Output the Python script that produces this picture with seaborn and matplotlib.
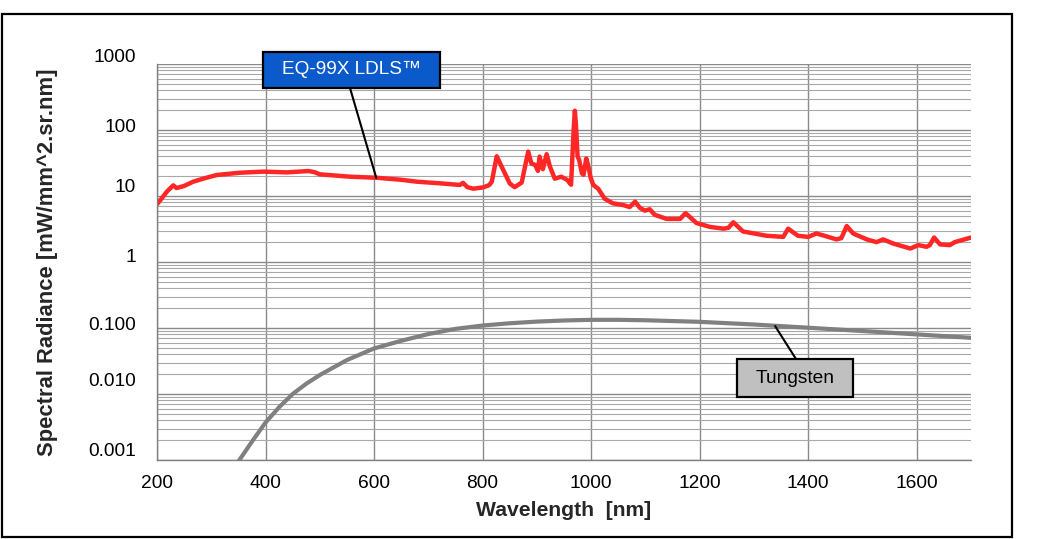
import matplotlib
matplotlib.use("Agg")
import matplotlib.pyplot as plt
import matplotlib.transforms as mtransforms
from matplotlib.patches import Rectangle
from matplotlib.ticker import FixedLocator, LogLocator, MultipleLocator, NullFormatter
import seaborn as sns

# ----------------------------
# Data
# ----------------------------
ldls_nm = [200, 210, 218, 230, 236, 250, 267, 290, 310, 352, 396, 439, 465, 479, 490,
           500, 556, 605, 650, 678, 720, 758, 764, 772, 783, 801, 812, 817, 826, 835,
           850, 859, 872, 884, 890, 897, 902, 905, 911, 918, 924, 933, 945, 956, 963,
           968, 970, 972, 975, 978, 983, 986, 991, 995, 999, 1004, 1013, 1025, 1040,
           1059, 1071, 1081, 1090, 1099, 1108, 1117, 1139, 1164, 1174, 1194, 1219,
           1244, 1253, 1262, 1280, 1323, 1354, 1363, 1381, 1400, 1415, 1430, 1452,
           1461, 1471, 1483, 1508, 1526, 1538, 1557, 1588, 1603, 1618, 1624, 1632,
           1643, 1661, 1670, 1688, 1700]
ldls_val = [7.5, 9.5, 11.6, 14.5, 13.2, 14.2, 16.5, 18.8, 20.8, 22.5, 23.4, 22.8, 23.5, 23.9, 23.0,
            21.3, 19.6, 18.9, 17.6, 16.5, 15.6, 14.7, 15.8, 13.6, 12.9, 13.5, 14.6, 16.5, 40, 28,
            15.5, 13.6, 16, 47, 31, 29.5, 24, 39.5, 25.5, 43, 28, 18.3, 19.6, 17.5, 14.8,
            110, 196, 120, 40, 35, 22, 21, 37, 28, 19, 14.7, 12.9, 9.1, 7.75,
            7.3, 6.8, 8.2, 6.6, 6.0, 6.3, 5.2, 4.5, 4.5, 5.5, 3.9, 3.4,
            3.2, 3.3, 4.0, 2.9, 2.5, 2.4, 3.2, 2.5, 2.4, 2.7, 2.5, 2.2,
            2.3, 3.5, 2.7, 2.2, 2.0, 2.2, 1.9, 1.6, 1.8, 1.7, 1.8, 2.35,
            1.85, 1.8, 2.0, 2.2, 2.35]

tungsten_nm = [330, 350, 375, 400, 425, 450, 475, 500, 550, 600, 650, 700, 750, 800,
               850, 900, 950, 1000, 1050, 1100, 1200, 1300, 1400, 1500, 1600, 1700]
tungsten_val = [0.0005, 0.00095, 0.0019, 0.0037, 0.0063, 0.0100, 0.0143, 0.0194, 0.0327,
                0.049, 0.064, 0.081, 0.097, 0.109, 0.118, 0.125, 0.130, 0.133, 0.133,
                0.131, 0.124, 0.113, 0.101, 0.090, 0.080, 0.071]

y_ticks = [0.001, 0.01, 0.1, 1, 10, 100, 1000]
y_tick_labels = ["0.001", "0.010", "0.100", "1", "10", "100", "1000"]
x_ticks = [200, 400, 600, 800, 1000, 1200, 1400, 1600]

# ----------------------------
# Style
# ----------------------------
sns.set_style("white")
plt.rcParams["font.family"] = ["Liberation Sans", "DejaVu Sans"]

fig = plt.figure(figsize=(10.5, 5.39), dpi=100)
ax = fig.add_axes([157 / 1050, 1 - 460 / 539, 814 / 1050, 396 / 539])

sns.lineplot(x=tungsten_nm, y=tungsten_val, ax=ax, color="#808080", linewidth=3.0, estimator=None)
sns.lineplot(x=ldls_nm, y=ldls_val, ax=ax, color="#ff2626", linewidth=3.2, estimator=None)

ax.set_yscale("log")
ax.set_xlim(200, 1700)
ax.set_ylim(0.001, 1000)

ax.xaxis.set_major_locator(FixedLocator(x_ticks))
ax.xaxis.set_minor_locator(MultipleLocator(40))
ax.yaxis.set_major_locator(FixedLocator(y_ticks))
ax.yaxis.set_minor_locator(LogLocator(base=10, subs=range(2, 10)))
ax.yaxis.set_minor_formatter(NullFormatter())
ax.set_yticklabels(y_tick_labels)

ax.grid(which="major", color="#8a8a8a", linewidth=1.0)
ax.grid(which="minor", axis="y", color="#a8a8a8", linewidth=0.8)
ax.set_axisbelow(True)

ax.tick_params(axis="both", which="major", length=0, labelsize=13.8, colors="black")
ax.tick_params(axis="x", which="major", pad=11)
ax.tick_params(axis="y", which="major", pad=15)
ax.tick_params(axis="x", which="minor", direction="in", length=4, color="#808080", width=0.8)
ax.tick_params(axis="y", which="minor", length=0)

# labels sit a little above their gridlines, as in the original
label_shift = [10, 14, 5, 7, 10, 5, 9]
for lab, dy in zip(ax.get_yticklabels(), label_shift):
    lab.set_transform(lab.get_transform() + mtransforms.ScaledTranslation(0, dy / 100, fig.dpi_scale_trans))

for side in ["top", "right"]:
    ax.spines[side].set_visible(False)
for side in ["left", "bottom"]:
    ax.spines[side].set_color("#808080")
    ax.spines[side].set_linewidth(1.0)

ax.set_xlabel("Wavelength  [nm]", fontsize=15.2, fontweight="bold", labelpad=6)
ax.set_ylabel("Spectral Radiance [mW/mm^2.sr.nm]", fontsize=15.8, fontweight="bold", labelpad=22)

# ----------------------------
# Callout boxes
# ----------------------------
ax.add_patch(Rectangle((0.1302, 0.9394), 0.2175, 0.0909, transform=ax.transAxes,
                       facecolor="#0a5acb", edgecolor="black", linewidth=1.6, clip_on=False, zorder=5))
ax.text(0.2389, 0.985, "EQ-99X LDLS™", transform=ax.transAxes, ha="center", va="center",
        color="white", fontsize=13.7, zorder=6)
ax.annotate("", xy=(604, 18.9), xycoords="data", xytext=(0.2371, 0.9394), textcoords="axes fraction",
            arrowprops=dict(arrowstyle="-", color="black", lw=1.5, shrinkA=0, shrinkB=0), zorder=4)

ax.add_patch(Rectangle((0.7125, 0.1591), 0.1425, 0.096, transform=ax.transAxes,
                       facecolor="#c0c0c0", edgecolor="black", linewidth=1.6, clip_on=False, zorder=5))
ax.text(0.7837, 0.207, "Tungsten", transform=ax.transAxes, ha="center", va="center",
        color="black", fontsize=13.8, zorder=6)
ax.annotate("", xy=(1339, 0.107), xycoords="data", xytext=(0.785, 0.2551), textcoords="axes fraction",
            arrowprops=dict(arrowstyle="-", color="black", lw=1.5, shrinkA=0, shrinkB=0), zorder=4)

# outer chart frame
fig.patches.append(Rectangle((1.5 / 1050, 2 / 539), 1010 / 1050, 523 / 539, transform=fig.transFigure,
                             fill=False, edgecolor="black", linewidth=1.6))

fig.savefig("out.png", dpi=100)
